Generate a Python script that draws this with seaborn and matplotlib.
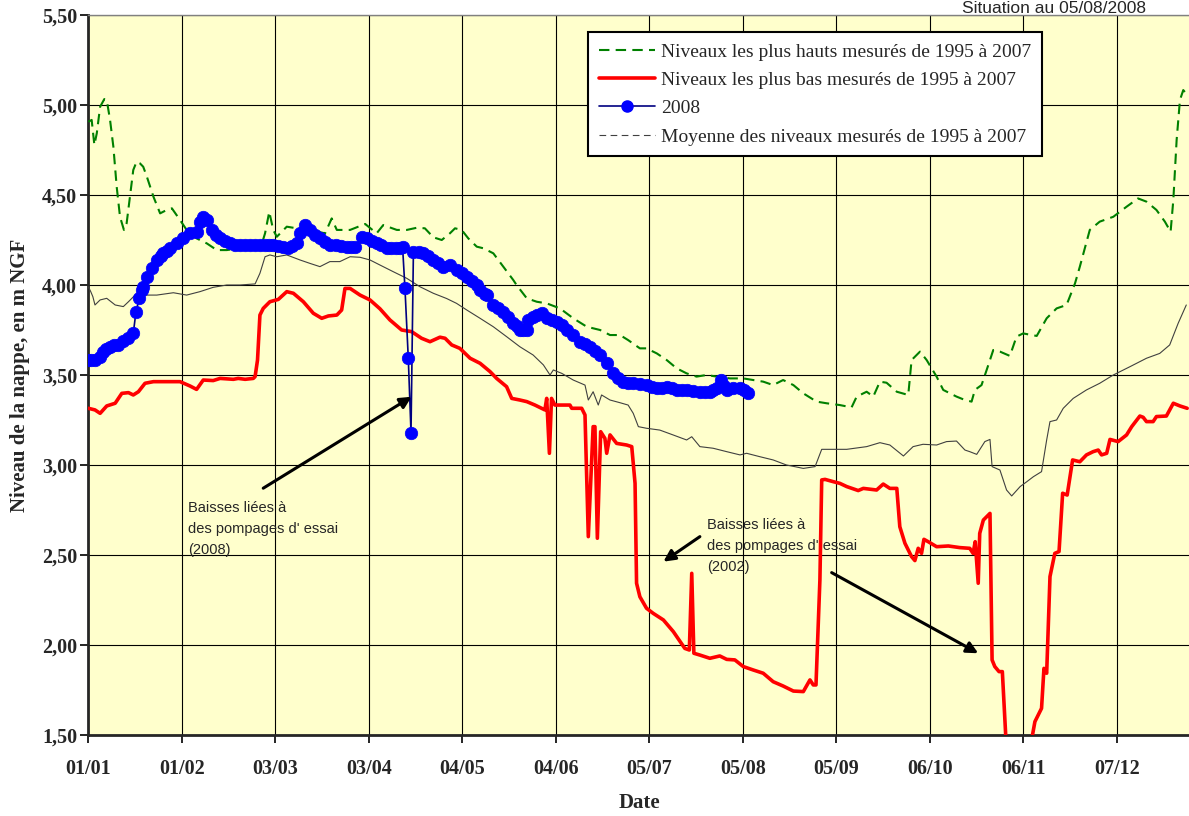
import numpy as np
import pandas as pd
import matplotlib
matplotlib.use('Agg')
import matplotlib.pyplot as plt
from matplotlib.lines import Line2D
import seaborn as sns

# x = day of year (0 = 01/01), y = level in m NGF
date_days = [0, 31, 62, 93, 124, 155, 186, 217, 248, 279, 310, 341]
date_labels = ['01/01', '01/02', '03/03', '03/04', '04/05', '04/06',
               '05/07', '05/08', '05/09', '06/10', '06/11', '07/12']
level_ticks = [1.5, 2.0, 2.5, 3.0, 3.5, 4.0, 4.5, 5.0, 5.5]

# highest levels 1995-2007
max_days = [0, 1.1, 2, 2.8, 3.9, 5.3, 6.1, 7.2, 8.3, 9.4, 10.5, 11.8, 12.7, 13.8, 14.9, 16, 17.1, 18.2,
            19.4, 21.6, 23.8, 26, 27.7, 30.4, 32.6, 35.9, 39.3, 42.6, 45.9, 50.3, 56.9, 58.6, 60, 61.3,
            62.5, 65.8, 69.1, 73.5, 78.5, 80.7, 82.4, 86.8, 91.8, 95.6, 97.8, 102.3, 105.6, 108.9,
            111.6, 114.4, 117.2, 119.9, 121.6, 123.8, 126, 128.8, 131, 134.3, 137.6, 140.9, 142,
            145.4, 148.7, 152, 156.4, 160.8, 165.3, 169.7, 173, 176.3, 179, 182.9, 185.1, 188.5,
            191.8, 195.1, 198.4, 201.7, 205, 208.4, 212.8, 217.2, 220.5, 223.8, 227.1, 230.4, 233.8,
            237.1, 241.5, 244.8, 249.2, 253.1, 254.8, 258.1, 260.3, 262.5, 264.7, 268.1, 271.9, 273,
            275.8, 278, 281.3, 283.5, 287.9, 290.7, 292.9, 294, 296.2, 297.9, 300.1, 302.3, 305.6,
            307.8, 310, 314.5, 317.8, 321.1, 324.4, 327.2, 328.8, 332.1, 335.4, 339.9, 344.3, 348.1,
            350.9, 354.2, 357, 358.9, 359.8, 360.9, 362, 363.1, 364.4]
max_vals = [4.907, 4.917, 4.778, 4.843, 4.99, 5.033, 5.028, 4.917, 4.768, 4.546, 4.379, 4.306, 4.343,
            4.49, 4.639, 4.685, 4.676, 4.657, 4.602, 4.49, 4.398, 4.417, 4.426, 4.361, 4.306, 4.259,
            4.231, 4.194, 4.194, 4.204, 4.194, 4.287, 4.407, 4.306, 4.268, 4.324, 4.315, 4.306, 4.287,
            4.37, 4.306, 4.306, 4.339, 4.287, 4.333, 4.306, 4.306, 4.318, 4.315, 4.265, 4.25, 4.287,
            4.315, 4.306, 4.259, 4.213, 4.204, 4.176, 4.102, 4.028, 4.0, 3.926, 3.907, 3.898, 3.87,
            3.815, 3.768, 3.75, 3.722, 3.722, 3.694, 3.648, 3.648, 3.62, 3.583, 3.537, 3.509, 3.491,
            3.5, 3.491, 3.481, 3.481, 3.472, 3.463, 3.444, 3.472, 3.444, 3.398, 3.352, 3.343, 3.333,
            3.32, 3.38, 3.407, 3.38, 3.463, 3.457, 3.407, 3.389, 3.583, 3.63, 3.583, 3.491, 3.417,
            3.38, 3.361, 3.352, 3.417, 3.444, 3.528, 3.639, 3.63, 3.606, 3.713, 3.731, 3.717, 3.815,
            3.87, 3.889, 4.009, 4.102, 4.306, 4.352, 4.379, 4.435, 4.481, 4.463, 4.417, 4.352, 4.296,
            4.472, 4.806, 5.028, 5.083, 5.056]

# lowest levels 1995-2007
min_days = [0, 2.2, 3.9, 6.1, 8.9, 11.1, 13.3, 14.9, 16.6, 18.8, 21.6, 30.4, 33.7, 35.9, 38.1, 41.4,
            43.7, 48.1, 49.7, 52, 54.7, 55.3, 56.1, 56.9, 58, 60.2, 63, 65.8, 68, 71.3, 74.6, 77.4,
            79.6, 82.4, 84, 85.1, 86.8, 90.1, 93.4, 96.7, 100, 103.9, 107.2, 110.5, 113.3, 116.6,
            118.3, 120.5, 123.2, 126.6, 129.9, 133.2, 135.4, 138.7, 140.4, 143.1, 145.4, 148.1, 151.4,
            152, 152.9, 153.6, 154.7, 159.7, 160.3, 163.6, 164.7, 165.8, 167.4, 168, 168.8, 169.9,
            171.3, 171.9, 173, 175.2, 178.5, 180.2, 181.3, 181.8, 182.9, 185.1, 187.3, 190.7, 194,
            197.8, 199.3, 200.1, 200.8, 202.8, 206.1, 209.4, 211.7, 214.4, 217.2, 220.5, 223.8, 227.1,
            230.4, 233.8, 237.1, 239.3, 240.4, 241.3, 242.6, 243.2, 244.3, 247.1, 249.2, 251.5, 255.3,
            257, 261.4, 263.6, 265.8, 268.1, 269.1, 270.8, 273, 274.1, 275.2, 276.3, 277.1, 278.5,
            281.3, 285.2, 289, 292.3, 293.4, 294.1, 295.1, 295.6, 296.8, 299, 299.7, 300.6, 302, 303.1,
            304.3, 308, 312.8, 313.9, 316.1, 316.9, 317.8, 318.9, 320.5, 321.9, 323.1, 324.6, 326.4,
            328.8, 331, 333.2, 334.9, 336, 337.7, 338.8, 341.5, 344.3, 346, 348.7, 349.8, 350.9, 353.1,
            354.2, 357.5, 359.8, 362, 364.4]
min_vals = [3.315, 3.306, 3.287, 3.328, 3.343, 3.398, 3.402, 3.389, 3.407, 3.454, 3.463, 3.463, 3.439,
            3.42, 3.472, 3.469, 3.481, 3.476, 3.481, 3.476, 3.481, 3.491, 3.583, 3.833, 3.87, 3.907,
            3.92, 3.963, 3.954, 3.907, 3.843, 3.815, 3.828, 3.833, 3.861, 3.981, 3.981, 3.944, 3.917,
            3.868, 3.806, 3.75, 3.741, 3.704, 3.685, 3.71, 3.704, 3.667, 3.648, 3.593, 3.565, 3.519,
            3.481, 3.435, 3.37, 3.361, 3.352, 3.333, 3.306, 3.37, 3.065, 3.37, 3.333, 3.333, 3.315,
            3.315, 3.278, 2.602, 3.213, 3.213, 2.593, 3.185, 3.148, 3.065, 3.167, 3.12, 3.111, 3.102,
            2.898, 2.343, 2.268, 2.204, 2.176, 2.139, 2.074, 1.981, 1.972, 2.398, 1.954, 1.944, 1.926,
            1.939, 1.92, 1.917, 1.88, 1.861, 1.843, 1.796, 1.772, 1.744, 1.741, 1.806, 1.778, 1.778,
            2.361, 2.917, 2.92, 2.907, 2.898, 2.88, 2.858, 2.87, 2.861, 2.894, 2.87, 2.87, 2.657, 2.565,
            2.491, 2.469, 2.537, 2.509, 2.587, 2.574, 2.546, 2.55, 2.541, 2.537, 2.509, 2.574, 2.343,
            2.62, 2.694, 2.731, 1.917, 1.88, 1.852, 1.852, 1.472, 1.30, 1.472, 1.574, 1.648, 1.87,
            1.843, 2.38, 2.509, 2.519, 2.843, 2.833, 3.028, 3.018, 3.056, 3.074, 3.083, 3.056, 3.065,
            3.142, 3.13, 3.167, 3.213, 3.272, 3.265, 3.241, 3.241, 3.269, 3.272, 3.343, 3.328, 3.315]

# mean levels 1995-2007
mean_days = [0, 0.8, 1.5, 2.2, 3.9, 6.1, 8.9, 11.6, 13.3, 15.5, 18.3, 22.7, 28.2, 32.6, 37, 41.4, 45.9,
             50.3, 55.3, 56.9, 58.6, 60.2, 62.5, 65.8, 70.2, 73.5, 76.8, 80.1, 83.4, 86.8, 90.1, 93.4,
             96.7, 101.1, 105.6, 110, 114.4, 118.8, 122.1, 125.5, 129.9, 134.3, 138.7, 143.1, 147.5,
             150.9, 153.1, 154.2, 157, 160.8, 164.7, 165.8, 167.4, 169.1, 170.2, 173, 176.3, 179, 180.7,
             182.4, 185.1, 189.5, 193.9, 198.4, 200.1, 202.8, 207.2, 211.7, 216.1, 218.3, 222.7, 227.1,
             231.5, 234.5, 237.1, 241, 243.2, 245.9, 251.5, 258.1, 262.5, 265.8, 270.3, 273.5, 276.8,
             281.3, 284.6, 287.9, 290.7, 292.3, 294.6, 297.3, 299, 299.7, 302.3, 304.5, 306.2, 309,
             311.2, 313.4, 316.1, 317.8, 318.9, 321.1, 323.3, 326.6, 331, 335.4, 339.9, 345.4, 350.9,
             355.3, 358.6, 361.4, 364.1]
mean_vals = [3.99, 3.963, 3.935, 3.889, 3.917, 3.926, 3.889, 3.88, 3.907, 3.944, 3.944, 3.944, 3.957,
             3.944, 3.963, 3.987, 4.0, 4.0, 4.006, 4.065, 4.157, 4.167, 4.157, 4.167, 4.139, 4.12,
             4.102, 4.13, 4.13, 4.157, 4.154, 4.139, 4.111, 4.074, 4.037, 3.99, 3.954, 3.925, 3.898,
             3.861, 3.815, 3.768, 3.713, 3.657, 3.611, 3.556, 3.5, 3.528, 3.509, 3.472, 3.444, 3.361,
             3.407, 3.333, 3.389, 3.361, 3.346, 3.333, 3.287, 3.213, 3.204, 3.194, 3.167, 3.139, 3.157,
             3.102, 3.093, 3.074, 3.056, 3.065, 3.046, 3.028, 3.0, 2.99, 2.981, 2.991, 3.087, 3.087,
             3.087, 3.102, 3.124, 3.111, 3.05, 3.102, 3.115, 3.111, 3.13, 3.133, 3.083, 3.074, 3.059,
             3.13, 3.142, 2.991, 2.972, 2.861, 2.828, 2.88, 2.907, 2.935, 2.963, 3.139, 3.241, 3.25,
             3.315, 3.37, 3.417, 3.454, 3.5, 3.546, 3.593, 3.62, 3.667, 3.787, 3.889]

# 2008 measurements
y08_days = [0, 1, 2.2, 3.9, 5, 6, 7.2, 8.5, 9.9, 11.6, 13.3, 14.9, 15.8, 16.9, 17.7, 18.2, 19.4, 21, 22.7,
            24, 24.9, 26, 27.1, 29.3, 31.5, 33.7, 35.9, 37, 38.1, 39.3, 40.9, 42.3, 43.7, 45.3, 47, 48.6,
            50.3, 52, 53.6, 55.3, 56.9, 58.5, 60, 61.3, 63, 64.7, 66.3, 67.7, 69.1, 70.2, 71.9, 73.5,
            75.1, 76.8, 78.5, 80.1, 82, 83.8, 85.7, 87, 88.4, 90.7, 92.3, 94, 95.6, 97.2, 98.9, 100.5,
            102, 103.4, 104.2, 105, 106.1, 107, 107.8, 109.5, 111.1, 112.8, 114.4, 116, 117.7, 119.9,
            122.1, 123.8, 125.5, 127.2, 128.8, 129.9, 131.5, 132.1, 134.3, 136, 137.6, 139.3, 140.9,
            142, 143.1, 144.2, 145.4, 145.9, 147.3, 148.7, 150.3, 152, 153.6, 155.3, 157, 158.6, 160.8,
            163, 164.6, 166.3, 168, 169.7, 171.9, 174.1, 175.8, 177.4, 179, 180.7, 183, 185.1, 186.8,
            188.5, 190.2, 191.8, 193.5, 195.1, 196.8, 198.4, 200.6, 202.8, 204.5, 206.1, 207.3, 208.4,
            209.7, 210.7, 211.7, 213.9, 216.1, 217.5, 218.8]
y08_vals = [3.583, 3.583, 3.585, 3.602, 3.63, 3.645, 3.657, 3.665, 3.667, 3.69, 3.704, 3.731, 3.852,
            3.926, 3.972, 3.991, 4.046, 4.093, 4.139, 4.16, 4.176, 4.19, 4.204, 4.231, 4.259, 4.287,
            4.296, 4.352, 4.379, 4.361, 4.306, 4.28, 4.259, 4.245, 4.231, 4.225, 4.222, 4.222, 4.222,
            4.222, 4.222, 4.222, 4.222, 4.222, 4.218, 4.213, 4.204, 4.215, 4.231, 4.287, 4.333, 4.306,
            4.28, 4.259, 4.24, 4.222, 4.22, 4.215, 4.213, 4.213, 4.213, 4.265, 4.259, 4.245, 4.231,
            4.22, 4.204, 4.204, 4.204, 4.204, 4.213, 3.981, 3.593, 3.18, 4.185, 4.182, 4.176, 4.16,
            4.139, 4.12, 4.102, 4.111, 4.083, 4.065, 4.046, 4.02, 4.0, 3.972, 3.95, 3.944, 3.889, 3.87,
            3.852, 3.82, 3.787, 3.77, 3.75, 3.75, 3.75, 3.806, 3.82, 3.833, 3.843, 3.815, 3.805, 3.796,
            3.775, 3.75, 3.72, 3.685, 3.67, 3.657, 3.635, 3.611, 3.565, 3.509, 3.485, 3.463, 3.455,
            3.454, 3.45, 3.444, 3.435, 3.426, 3.43, 3.435, 3.425, 3.417, 3.417, 3.417, 3.412, 3.407,
            3.407, 3.407, 3.415, 3.426, 3.472, 3.44, 3.417, 3.426, 3.426, 3.415, 3.402]

legend_labels = ['Niveaux les plus hauts mesurés de 1995 à 2007',
                 'Niveaux les plus bas mesurés de 1995 à 2007',
                 '2008',
                 'Moyenne des niveaux mesurés de 1995 à 2007']
note_text = "Baisses liées à\ndes pompages d' essai\n"

sns.set_style('ticks')
plt.rcParams['font.family'] = ['Liberation Serif', 'DejaVu Serif']

fig = plt.figure(figsize=(11.89, 8.16), dpi=100)
ax = fig.add_axes([0.0743, 0.0993, 0.9257, 0.8823])
ax.set_facecolor('#FFFFCC')

sns.lineplot(x=mean_days, y=mean_vals, ax=ax, color='#404040', linewidth=0.8,
             sort=False, estimator=None, zorder=3)
sns.lineplot(x=max_days, y=max_vals, ax=ax, color='#008000', linewidth=1.5,
             linestyle=(0, (5, 3)), sort=False, estimator=None, zorder=4)
sns.lineplot(x=min_days, y=min_vals, ax=ax, color='#FF0000', linewidth=2.6,
             sort=False, estimator=None, zorder=5)
sns.lineplot(x=y08_days, y=y08_vals, ax=ax, color='#000080', linewidth=1.2,
             marker='o', markersize=9, markerfacecolor='#0000FF',
             markeredgecolor='#0000FF', markeredgewidth=0.5,
             sort=False, estimator=None, zorder=6)

ax.set_xlim(0, 365)
ax.set_ylim(1.5, 5.5)
ax.set_xticks(date_days)
ax.set_xticklabels(date_labels)
ax.set_yticks(level_ticks)
ax.set_yticklabels([f'{v:.2f}'.replace('.', ',') for v in level_ticks])
ax.grid(True, color='black', linewidth=0.8)
ax.set_axisbelow(True)

for lab in ax.get_xticklabels() + ax.get_yticklabels():
    lab.set_fontweight('bold')
    lab.set_fontsize(14.5)
ax.tick_params(axis='both', direction='out', length=6, width=1.2, color='black')
ax.tick_params(axis='x', pad=11)
ax.tick_params(axis='y', pad=2)

ax.spines['left'].set_linewidth(2)
ax.spines['bottom'].set_linewidth(2)
ax.spines['top'].set_color('gray')
ax.spines['top'].set_linewidth(1)
ax.spines['right'].set_visible(False)

ax.set_ylabel('Niveau de la nappe, en m NGF', fontsize=15, fontweight='bold', va='center')
ax.yaxis.set_label_coords(-0.062, 0.5)
ax.set_xlabel('Date', fontsize=15, fontweight='bold', va='center')
ax.xaxis.set_label_coords(0.501, -0.094)

arrow_kw = dict(arrowstyle='-|>', color='black', lw=2.2, mutation_scale=17, shrinkA=0, shrinkB=0)
ax.annotate('', xy=(107.2, 3.379), xytext=(58.0, 2.871), arrowprops=arrow_kw, zorder=7)
ax.annotate('', xy=(190.7, 2.463), xytext=(202.8, 2.602), arrowprops=arrow_kw, zorder=7)
ax.annotate('', xy=(295.1, 1.954), xytext=(246.5, 2.402), arrowprops=arrow_kw, zorder=7)
ax.text(33.1, 2.80, note_text + '(2008)', family='Liberation Sans', fontsize=10.5,
        va='top', ha='left', linespacing=1.65, zorder=7)
ax.text(205.1, 2.706, note_text + '(2002)', family='Liberation Sans', fontsize=10.5,
        va='top', ha='left', linespacing=1.65, zorder=7)

handles = [Line2D([], [], color='#008000', lw=1.5, ls=(0, (5, 3))),
           Line2D([], [], color='#FF0000', lw=2.6),
           Line2D([], [], color='#000080', lw=1.2, marker='o', ms=8,
                  mfc='#0000FF', mec='#0000FF'),
           Line2D([], [], color='#404040', lw=0.8, ls=(0, (6, 4)))]
leg = ax.legend(handles, legend_labels, loc='upper left', bbox_to_anchor=(0.454, 0.976),
                borderaxespad=0, frameon=True, fancybox=False, edgecolor='black',
                framealpha=1, fontsize=14, handlelength=2.9, handletextpad=0.3,
                borderpad=0.55, labelspacing=0.55)
leg.get_frame().set_linewidth(1.5)
leg.set_zorder(10)

fig.text(1146 / 1189, 1 - 1 / 816, 'Situation au 05/08/2008', ha='right', va='top',
         family='Liberation Sans', fontsize=12.5)

fig.savefig('out.png', dpi=100)
